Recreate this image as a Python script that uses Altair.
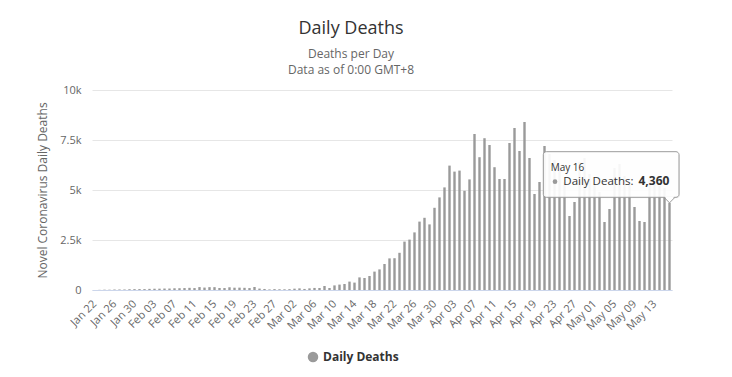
import altair as alt
import pandas as pd

# ---- data ----
dates = pd.date_range("2020-01-22", "2020-05-16", freq="D").strftime("%Y-%m-%d").tolist()
deaths = [
    0, 8, 16, 15, 24, 26, 26, 38, 43, 46,                                   # Jan 22-31
    45, 57, 64, 66, 73, 73, 86, 89, 97, 108, 97, 146, 121, 143, 142, 105,   # Feb 1-16
    98, 136, 115, 118, 109, 97, 150, 71, 52, 29, 44, 37, 35,                # Feb 17-29
    42, 67, 81, 53, 82, 103, 101, 200, 100, 230, 270, 300, 420, 370, 630,   # Mar 1-15
    600, 700, 920, 1030, 1300, 1580, 1590, 1860, 2420, 2520, 2880, 3420,    # Mar 16-27
    3610, 3280, 4110, 4630,                                                 # Mar 28-31
    5130, 6220, 5920, 5970, 4960, 5530, 7800, 6640, 7590, 7250, 6140, 5550, # Apr 1-12
    5550, 7350, 8100, 6950, 8400, 6600, 4800, 5400, 7200, 6800, 6500, 6200, # Apr 13-24
    5400, 3700, 4400, 6400, 6600, 5800,                                     # Apr 25-30
    5300, 4900, 3400, 4050, 6100, 6300, 5700, 5400, 4150, 3450, 3400, 5600, # May 1-12
    5300, 5200, 5100, 4360,                                                 # May 13-16
]
series_name = "Daily Deaths"
tick_dates = dates[::4]
y_ticks = [0, 2500, 5000, 7500, 10000]
tip_date = ["2020-05-16"]
tip_value = [4360]
tip_title = ["May 16"]
tip_label = ["Daily Deaths: "]
tip_number = ["4,360"]

df = pd.DataFrame({"date": dates, "deaths": deaths, "series": series_name})
tip = pd.DataFrame({"date": tip_date, "deaths": tip_value, "title": tip_title,
                    "label": tip_label, "number": tip_number})

FONT = "Open Sans"
BAR = "#9a9a9a"

x_scale = alt.Scale(type="utc", padding=0, domain=[
    alt.DateTime(year=2020, month=1, date=21, hours=12, utc=True),
    alt.DateTime(year=2020, month=5, date=16, hours=12, utc=True)])
y_scale = alt.Scale(domain=[0, 10000], nice=False, padding=0)

tick_values = [alt.DateTime(year=int(d[:4]), month=int(d[5:7]), date=int(d[8:10]), utc=True)
               for d in tick_dates]

x_axis = alt.Axis(values=tick_values, format="%b %d", labelAngle=-45, labelAlign="right",
                  labelBaseline="middle", labelPadding=12, ticks=False, grid=False,
                  domainColor="#ccd6eb", labelFont=FONT, labelFontSize=11,
                  labelColor="#666666", title=None, labelOverlap=False, labelBound=False)
y_axis = alt.Axis(values=y_ticks, labelExpr="datum.value == 0 ? '0' : format(datum.value/1000, '') + 'k'",
                  domain=False, ticks=False, grid=True, gridColor="#e6e6e6",
                  labelFont=FONT, labelFontSize=11, labelColor="#666666", labelPadding=11,
                  title="Novel Coronavirus Daily Deaths", titleFont=FONT, titleFontSize=12,
                  titleFontWeight="normal", titleColor="#666666", titlePadding=10)

x_enc = alt.X("date:T", scale=x_scale, axis=x_axis)
y_enc = alt.Y("deaths:Q", scale=y_scale, axis=y_axis)

bars = alt.Chart(df).mark_bar(size=2.4).encode(
    x=x_enc,
    y=y_enc,
    color=alt.Color("series:N", scale=alt.Scale(range=[BAR]),
                    legend=alt.Legend(title=None, orient="none", legendX=215, legendY=261,
                                      symbolType="circle", symbolSize=110,
                                      labelFont=FONT, labelFontSize=12, labelFontWeight="bold",
                                      labelColor="#333333")),
)

base = alt.Chart(tip).encode(x=x_enc, y=y_enc)

shadow = base.mark_rect(xOffset=-125.2, x2Offset=10.5, yOffset=-50.1, y2Offset=-4.5,
                        fill="black", fillOpacity=0.06, cornerRadius=3).encode(
    x2="date:T", y2="deaths:Q")
box = base.mark_rect(xOffset=-126.2, x2Offset=9.5, yOffset=-51.1, y2Offset=-5.5,
                     fill="white", fillOpacity=0.92, stroke="#9a9a9a", strokeWidth=1,
                     cornerRadius=3).encode(x2="date:T", y2="deaths:Q")
arrow_fill = base.mark_point(shape="M -1 -1.3 L 0 0 L 1 -1.3 Z", size=100, filled=True,
                             fill="white", opacity=1, strokeWidth=0)
arrow_line = base.mark_point(shape="M -1 -1 L 0 0 L 1 -1", size=100, filled=False,
                             stroke="#9a9a9a", strokeWidth=1, opacity=1)
t_title = base.mark_text(align="left", baseline="alphabetic", dx=-118.8, dy=-32,
                         font=FONT, fontSize=10, color="#333333").encode(text="title:N")
t_dot = base.mark_point(shape="circle", filled=True, size=22, color=BAR, opacity=1,
                        xOffset=-114.5, yOffset=-21.1)
t_label = base.mark_text(align="left", baseline="alphabetic", dx=-106.2, dy=-17.5,
                         font=FONT, fontSize=11.5, color="#333333").encode(text="label:N")
t_num = base.mark_text(align="left", baseline="alphabetic", dx=-31, dy=-17.5,
                       font=FONT, fontSize=12, fontWeight="bold", color="#333333").encode(text="number:N")

chart = alt.layer(bars, shadow, box, arrow_fill, arrow_line, t_title, t_dot, t_label, t_num).properties(
    width=580, height=200,
    background="white",
    title=alt.TitleParams(text="Daily Deaths", subtitle=["Deaths per Day", "Data as of 0:00 GMT+8"],
                          anchor="middle", dx=-31, offset=8, font=FONT, fontSize=18,
                          fontWeight="normal", color="#333333", subtitleFont=FONT,
                          subtitleFontSize=12, subtitleColor="#666666", subtitleLineHeight=16,
                          subtitlePadding=11),
    autosize=alt.AutoSizeParams(type="none"),
    padding={"left": 92, "top": 90, "right": 60, "bottom": 87},
).configure_view(stroke=None).configure_axisX(labelOverlap=False)

chart.save("out.html", embed_options={"renderer": "svg", "actions": False})
